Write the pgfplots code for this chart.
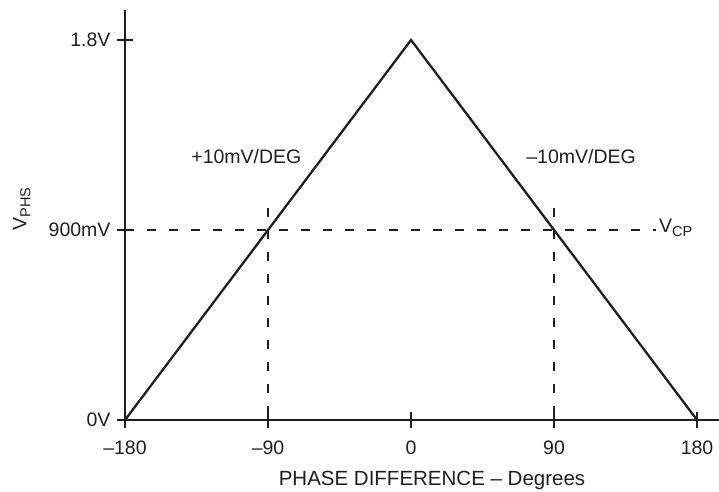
\documentclass[border=0pt]{standalone}
\usepackage{pgfplots}
\pgfplotsset{compat=1.18}
\usepackage{fontspec}
\setmainfont{Liberation Sans}
\newcommand{\fs}{\fontsize{19.5}{22}\selectfont}
\newcommand{\sub}[1]{\raisebox{-0.4ex}{\fontsize{14.5}{16}\selectfont #1}}
\begin{document}
\begin{tikzpicture}
\begin{axis}[
  scale only axis,
  width=594pt, height=410pt,
  xmin=-180, xmax=193.8,
  ymin=0, ymax=1.942,
  axis lines=left,
  axis line style={-, line width=2.8pt, black!88},
  xtick={-180,-90,0,90,180},
  xticklabels={--180,--90,0,90,180},
  ytick={0,0.9,1.8},
  yticklabels={0V,900mV,1.8V},
  tick align=center,
  major tick length=16pt,
  tick style={line width=2.4pt, black!88},
  tick label style={font=\fs, text=black!88},
  xticklabel style={yshift=-9pt},
  yticklabel style={xshift=-3pt},
  xlabel={PHASE DIFFERENCE -- Degrees},
  xlabel style={font=\fontsize{20.5}{22}\selectfont, text=black!88, xshift=10pt, yshift=-10pt},
  clip=false,
]
\addplot[line width=2.3pt, black!88] coordinates {(-180,0) (0,1.8) (180,0)};
\addplot[line width=2.3pt, black!88, dash pattern=on 9pt off 13pt] coordinates {(-180,0.9) (154,0.9)};
\addplot[line width=2.3pt, black!88, dash pattern=on 9pt off 13pt] coordinates {(-90,1.004) (-90,0)};
\addplot[line width=2.3pt, black!88, dash pattern=on 9pt off 13pt] coordinates {(90,1.004) (90,0)};
\node[font=\fs, text=black!88] at (axis cs:-103.6,1.247) {+10mV/DEG};
\node[font=\fs, text=black!88] at (axis cs:107,1.247) {--10mV/DEG};
\node[font=\fs, text=black!88, anchor=west, inner sep=0pt] at (axis cs:156,0.91) {V\sub{CP}};
\node[font=\fs, text=black!88, rotate=90] at (axis cs:-245,1.0) {V\sub{PHS}};
\end{axis}
\pgfresetboundingbox
\path (-125pt,-71pt) rectangle (594pt,420pt);
\end{tikzpicture}
\end{document}
